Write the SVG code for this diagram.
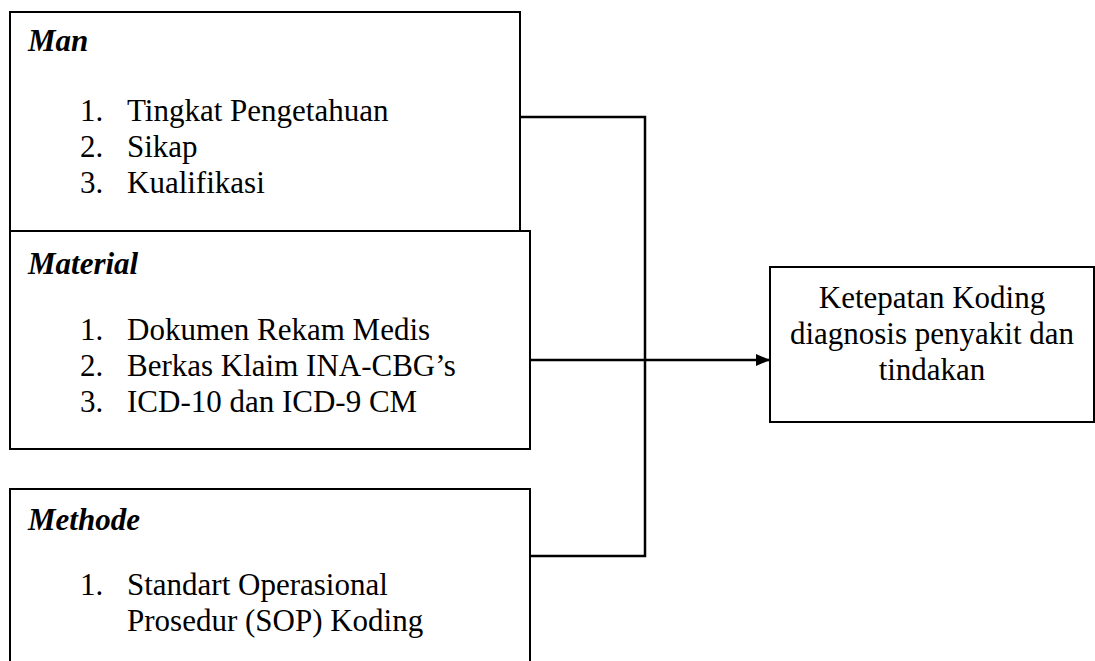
<svg xmlns="http://www.w3.org/2000/svg" width="1095" height="661" viewBox="0 0 1095 661">
<defs>
<style>
.box{fill:#fff;stroke:#000;stroke-width:2}
.t{font-family:"Liberation Serif","Times New Roman",serif;font-size:31px;fill:#000}
.h{font-family:"Liberation Serif","Times New Roman",serif;font-size:31px;font-weight:bold;font-style:italic;fill:#000}
.c{fill:none;stroke:#000;stroke-width:2.5}
</style>
<marker id="arr" markerWidth="14" markerHeight="14" refX="13" refY="7" orient="auto" markerUnits="userSpaceOnUse"><path d="M0,1 L14,7 L0,13 z" fill="#000"/></marker>
</defs>
<rect width="1095" height="661" fill="#fff"/>
<g id="connectors">
<path class="c" d="M520,117 H645 V556 H530"/>
<path class="c" d="M530,360 H769" marker-end="url(#arr)"/>
</g>
<g id="man">
<rect class="box" x="10" y="12" width="510" height="219"/>
<text class="h" x="28" y="51">Man</text>
<text class="t" x="80" y="121">1.</text><text class="t" x="127" y="121">Tingkat Pengetahuan</text>
<text class="t" x="80" y="157">2.</text><text class="t" x="127" y="157">Sikap</text>
<text class="t" x="80" y="193">3.</text><text class="t" x="127" y="193">Kualifikasi</text>
</g>
<g id="material">
<rect class="box" x="10" y="231" width="520" height="218"/>
<text class="h" x="28" y="274">Material</text>
<text class="t" x="80" y="340">1.</text><text class="t" x="127" y="340">Dokumen Rekam Medis</text>
<text class="t" x="80" y="376">2.</text><text class="t" x="127" y="376">Berkas Klaim INA-CBG’s</text>
<text class="t" x="80" y="412">3.</text><text class="t" x="127" y="412">ICD-10 dan ICD-9 CM</text>
</g>
<g id="methode">
<rect class="box" x="10" y="489" width="520" height="180"/>
<text class="h" x="28" y="530">Methode</text>
<text class="t" x="80" y="595">1.</text><text class="t" x="127" y="595">Standart Operasional</text>
<text class="t" x="127" y="631">Prosedur (SOP) Koding</text>
</g>
<g id="target">
<rect class="box" x="770" y="267" width="324" height="155"/>
<text class="t" x="932" y="308" text-anchor="middle">Ketepatan Koding</text>
<text class="t" x="932" y="344" text-anchor="middle">diagnosis penyakit dan</text>
<text class="t" x="932" y="380" text-anchor="middle">tindakan</text>
</g>
</svg>
